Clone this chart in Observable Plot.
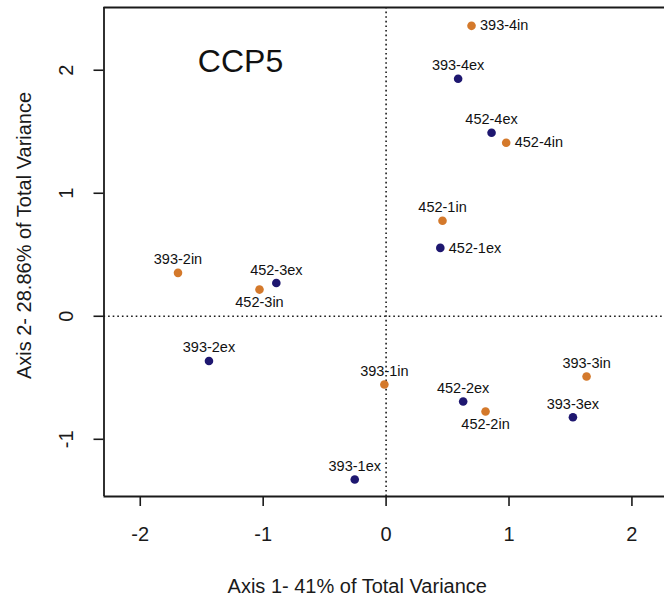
<!DOCTYPE html>
<html>
<head>
<meta charset="utf-8">
<script src="https://cdn.jsdelivr.net/npm/d3@7"></script>
<script src="https://cdn.jsdelivr.net/npm/@observablehq/plot@0.6"></script>
<style>
  html, body { margin: 0; padding: 0; background: #fff; }
  #chart svg { display: block; font-family: "Liberation Sans", Arial, Helvetica, sans-serif; }
</style>
</head>
<body>
<div id="chart"></div>
<script>
// ---- data ----
const sampleLabels = ["393-4in","393-4ex","452-4ex","452-4in","452-1in","452-1ex","393-2in","452-3ex","452-3in","393-2ex","393-1in","452-2ex","452-2in","393-3in","393-3ex","393-1ex"];
const axis1Values  = [0.695, 0.586, 0.858, 0.977, 0.459, 0.441, -1.693, -0.893, -1.030, -1.441, -0.014, 0.627, 0.809, 1.631, 1.520, -0.255];
const axis2Values  = [2.361, 1.931, 1.492, 1.411, 0.777, 0.556, 0.353, 0.270, 0.217, -0.363, -0.555, -0.693, -0.774, -0.490, -0.821, -1.327];
const sampleType   = ["in","ex","ex","in","in","ex","in","ex","in","ex","in","ex","in","in","ex","ex"];
const labelSide    = ["right","top","top","right","top","right","top","top","bottom","top","top","top","bottom","top","top","top"];
const typeDomain   = ["in","ex"];
const typeColors   = ["#d4792b","#1e1770"];
const xTicks = [-2, -1, 0, 1, 2];
const yTicks = [-1, 0, 1, 2];
const xDomain = [-2.295, 2.265];
const yDomain = [-1.465, 2.51];
const title = "CCP5";
const xLabel = "Axis 1- 41% of Total Variance";
const yLabel = "Axis 2- 28.86% of Total Variance";

const rows = sampleLabels.map((label, i) => ({
  label, x: axis1Values[i], y: axis2Values[i], type: sampleType[i], side: labelSide[i]
}));

const ink = "#1a1a1a";
const labelFont = 14.5;
const axisFont = 20;

const chart = Plot.plot({
  width: 664,
  height: 600,
  marginLeft: 103.5,
  marginRight: 0,
  marginTop: 7,
  marginBottom: 104,
  x: { domain: xDomain },
  y: { domain: yDomain },
  color: { domain: typeDomain, range: typeColors },
  style: { background: "#fff", color: ink, fontFamily: "'Liberation Sans', Arial, sans-serif" },
  marks: [
    // reference lines at zero
    Plot.ruleX([0], { stroke: ink, strokeWidth: 1.6, strokeDasharray: "1.6,3" }),
    Plot.ruleY([0], { stroke: ink, strokeWidth: 1.6, strokeDasharray: "1.6,3" }),
    // frame (left, top, bottom)
    Plot.ruleX([xDomain[0]], { stroke: ink, strokeWidth: 1.8 }),
    Plot.ruleY(yDomain, { stroke: ink, strokeWidth: 1.8 }),
    // x axis
    Plot.axisX({ ticks: xTicks, tickSize: 10, tickPadding: 20, fontSize: axisFont, stroke: ink, strokeWidth: 1.6, tickFormat: d => String(d), label: null }),
    // y axis ticks, rotated labels
    Plot.axisY({ ticks: yTicks, tickSize: 10, tickFormat: () => "", strokeWidth: 1.6, label: null }),
    Plot.text(yTicks, { y: d => d, text: d => String(d), frameAnchor: "left", dx: -37, rotate: -90, textAnchor: "middle", lineAnchor: "middle", fontSize: axisFont, fill: ink }),
    // axis titles
    Plot.text([xLabel], { text: d => d, frameAnchor: "bottom", dx: -27, dy: 96, textAnchor: "middle", lineAnchor: "bottom", fontSize: axisFont, fill: ink }),
    Plot.text([yLabel], { text: d => d, frameAnchor: "left", dx: -73, dy: -16.5, rotate: -90, textAnchor: "middle", lineAnchor: "bottom", fontSize: axisFont, fill: ink }),
    // panel title
    Plot.text([title], { text: d => d, frameAnchor: "top-left", dx: 136.5, dy: 64, textAnchor: "middle", lineAnchor: "bottom", fontSize: 32, fill: "#111" }),
    // points
    Plot.dot(rows, { x: "x", y: "y", r: 4.3, fill: "type", stroke: "none" }),
    // labels
    Plot.text(rows.filter(d => d.side === "top"), { x: "x", y: "y", text: "label", dy: -8.5, lineAnchor: "bottom", textAnchor: "middle", fontSize: labelFont, fill: "#111" }),
    Plot.text(rows.filter(d => d.side === "right"), { x: "x", y: "y", text: "label", dx: 8.5, lineAnchor: "middle", textAnchor: "start", fontSize: labelFont, fill: "#111" }),
    Plot.text(rows.filter(d => d.side === "bottom"), { x: "x", y: "y", text: "label", dy: 7.5, lineAnchor: "top", textAnchor: "middle", fontSize: labelFont, fill: "#111" })
  ]
});

document.getElementById("chart").appendChild(chart);
</script>
</body>
</html>
